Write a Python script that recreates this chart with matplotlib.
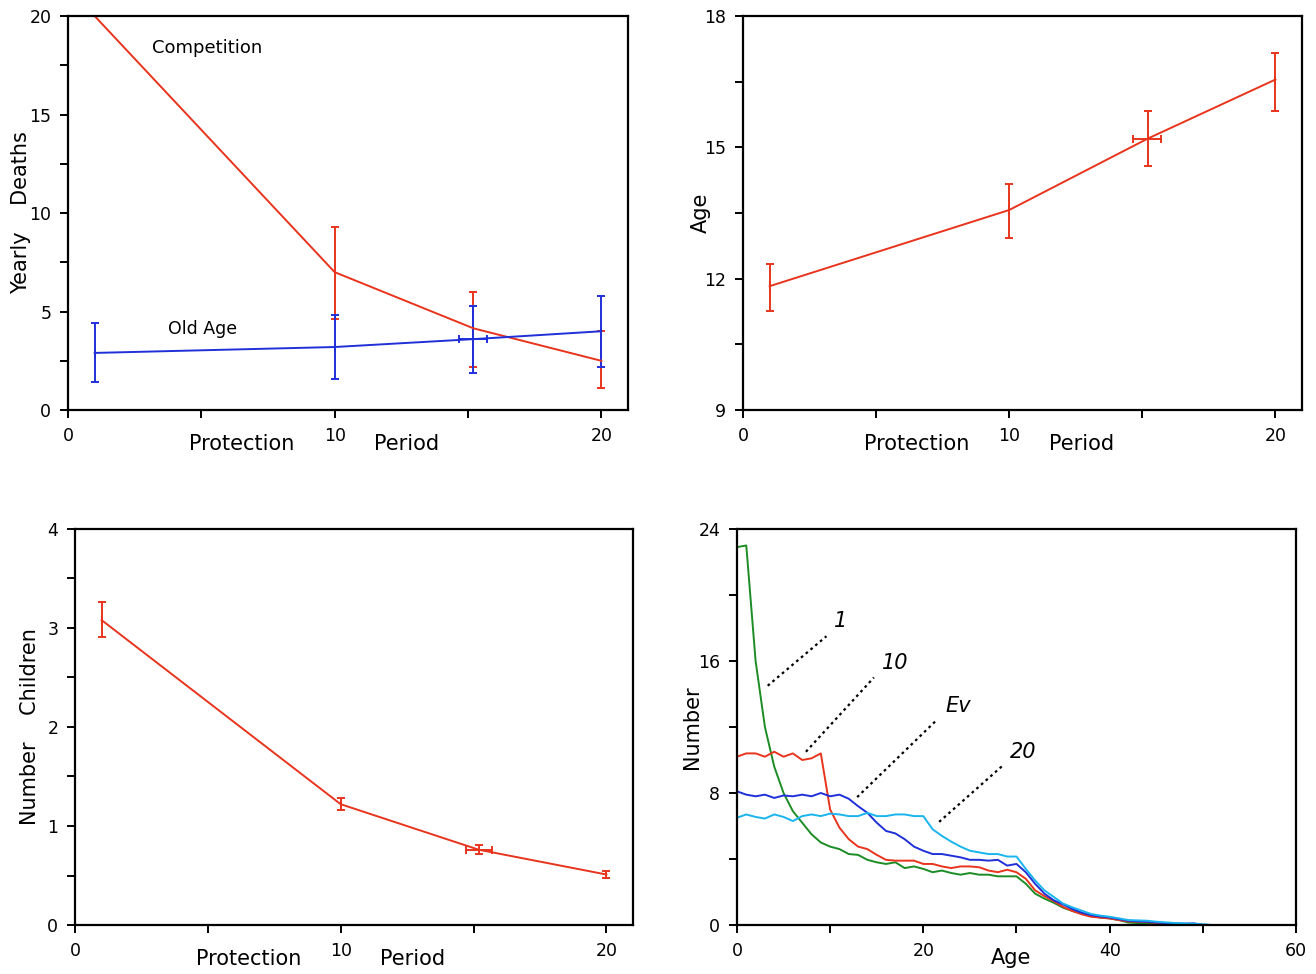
import matplotlib
matplotlib.use("Agg")
import matplotlib.pyplot as plt
from matplotlib.ticker import MultipleLocator, NullFormatter

# ── Colours ──
RED = "#e8341c"
BLUE = "#1f30d8"
GREEN = "#1c8c24"
CYAN = "#1ab4ee"

# ── Top left: yearly deaths vs protection period ──
comp_x = [1, 10, 15.2, 20]
comp_y = [20.0, 7.0, 4.15, 2.5]
comp_lo = [20.0, 4.6, 2.2, 1.1]
comp_hi = [20.0, 9.3, 6.0, 4.0]

old_x = [1, 10, 15.2, 20]
old_y = [2.9, 3.2, 3.6, 4.0]
old_lo = [1.4, 1.6, 1.9, 2.2]
old_hi = [4.4, 4.8, 5.3, 5.8]
old_xlo = [1, 10, 14.65, 20]
old_xhi = [1, 10, 15.7, 20]

# ── Top right: age vs protection period ──
age_x = [1, 10, 15.2, 20]
age_y = [11.83, 13.57, 15.2, 16.55]
age_lo = [11.26, 12.93, 14.57, 15.83]
age_hi = [12.33, 14.16, 15.83, 17.15]
age_xlo = [1, 10, 14.66, 20]
age_xhi = [1, 10, 15.71, 20]

# ── Bottom left: number of children vs protection period ──
kids_x = [1, 10, 15.2, 20]
kids_y = [3.08, 1.22, 0.76, 0.51]
kids_lo = [2.91, 1.16, 0.72, 0.47]
kids_hi = [3.26, 1.28, 0.81, 0.55]
kids_xlo = [1, 10, 14.7, 20]
kids_xhi = [1, 10, 15.68, 20]

# ── Bottom right: age distributions ──
ages = list(range(61))
pop_1 = [22.9, 23.0, 16.0, 12.0, 9.6, 8.0, 6.9, 6.2, 5.5, 5.0,
         4.75, 4.6, 4.3, 4.25, 3.95, 3.8, 3.7, 3.8, 3.45, 3.55,
         3.4, 3.2, 3.3, 3.15, 3.05, 3.15, 3.05, 3.05, 2.95, 2.95,
         2.95, 2.5, 1.9, 1.6, 1.35, 1.05, 0.85, 0.7, 0.55, 0.45,
         0.4, 0.3, 0.15, 0.12, 0.1, 0.08, 0.05, 0.04, 0.02, 0.0,
         0.0, 0.0, 0.0, 0.0, 0.0, 0.0, 0.0, 0.0, 0.0, 0.0, 0.0]
pop_10 = [10.2, 10.4, 10.4, 10.2, 10.5, 10.2, 10.4, 10.0, 10.1, 10.4,
          7.0, 5.9, 5.2, 4.75, 4.6, 4.25, 3.95, 3.9, 3.9, 3.9,
          3.7, 3.7, 3.55, 3.45, 3.55, 3.55, 3.5, 3.3, 3.2, 3.35,
          3.2, 2.8, 2.1, 1.75, 1.45, 1.1, 0.85, 0.65, 0.5, 0.45,
          0.4, 0.3, 0.22, 0.2, 0.18, 0.12, 0.08, 0.05, 0.02, 0.0,
          0.0, 0.0, 0.0, 0.0, 0.0, 0.0, 0.0, 0.0, 0.0, 0.0, 0.0]
pop_ev = [8.1, 7.9, 7.8, 7.9, 7.7, 7.85, 7.8, 7.9, 7.8, 8.0,
          7.8, 7.9, 7.65, 7.2, 6.8, 6.2, 5.7, 5.55, 5.2, 4.75,
          4.5, 4.3, 4.3, 4.2, 4.1, 3.95, 3.95, 3.9, 3.95, 3.6,
          3.7, 3.2, 2.5, 1.9, 1.5, 1.25, 0.97, 0.75, 0.6, 0.52,
          0.46, 0.36, 0.26, 0.22, 0.2, 0.15, 0.12, 0.1, 0.08, 0.1,
          0.02, 0.0, 0.0, 0.0, 0.0, 0.0, 0.0, 0.0, 0.0, 0.0, 0.0]
pop_20 = [6.5, 6.7, 6.55, 6.45, 6.7, 6.55, 6.3, 6.6, 6.7, 6.6,
          6.75, 6.7, 6.6, 6.6, 6.8, 6.6, 6.6, 6.7, 6.7, 6.6,
          6.6, 5.8, 5.4, 5.05, 4.75, 4.5, 4.4, 4.3, 4.3, 4.15,
          4.15, 3.4, 2.7, 2.1, 1.7, 1.3, 1.07, 0.87, 0.67, 0.57,
          0.5, 0.4, 0.3, 0.28, 0.26, 0.2, 0.16, 0.12, 0.1, 0.08,
          0.04, 0.0, 0.0, 0.0, 0.0, 0.0, 0.0, 0.0, 0.0, 0.0, 0.0]

curve_labels = ["1", "10", "Ev", "20"]
label_pos = [(11.1, 18.4), (17.0, 15.9), (23.8, 13.3), (30.7, 10.5)]
leader_start = [(3.3, 14.5), (7.4, 10.5), (12.9, 7.75), (21.7, 6.25)]
leader_end = [(9.6, 17.5), (14.7, 15.0), (21.4, 12.4), (28.6, 9.7)]

plt.rcParams["font.family"] = "DejaVu Sans"
TICK_FS = 12.5
LABEL_FS = 15


def yerr(y, lo, hi):
    return [[v - l for v, l in zip(y, lo)], [h - v for v, h in zip(y, hi)]]


def style(ax, xmaj, xmin, ymaj, ymin):
    for s in ax.spines.values():
        s.set_linewidth(1.6)
    ax.xaxis.set_major_locator(MultipleLocator(xmaj))
    ax.xaxis.set_minor_locator(MultipleLocator(xmin))
    ax.yaxis.set_major_locator(MultipleLocator(ymaj))
    ax.yaxis.set_minor_locator(MultipleLocator(ymin))
    ax.xaxis.set_minor_formatter(NullFormatter())
    ax.yaxis.set_minor_formatter(NullFormatter())
    ax.tick_params(which="both", direction="out", width=1.4, length=6,
                   labelsize=TICK_FS, pad=6, top=False, right=False)


def split_xlabel(ax):
    ax.text(0.311, -0.085, "Protection", transform=ax.transAxes,
            ha="center", va="center", fontsize=LABEL_FS)
    ax.text(0.605, -0.085, "Period", transform=ax.transAxes,
            ha="center", va="center", fontsize=LABEL_FS)


fig = plt.figure(figsize=(13.16, 9.74), dpi=100)
ax1 = fig.add_axes([0.0517, 0.579, 0.4255, 0.4045])
ax2 = fig.add_axes([0.5646, 0.579, 0.4248, 0.4045])
ax3 = fig.add_axes([0.0570, 0.0503, 0.4240, 0.4066])
ax4 = fig.add_axes([0.5600, 0.0503, 0.4248, 0.4066])

eb = dict(capsize=3, elinewidth=1.4, capthick=1.4, lw=1.4)

# top left
ax1.errorbar(comp_x, comp_y, yerr=yerr(comp_y, comp_lo, comp_hi), color=RED, **eb)
ax1.errorbar(old_x, old_y, yerr=yerr(old_y, old_lo, old_hi),
             xerr=yerr(old_x, old_xlo, old_xhi), color=BLUE, **eb)
ax1.set_xlim(0, 21)
ax1.set_ylim(0, 20)
style(ax1, 10, 5, 5, 2.5)
ax1.text(3.15, 18.4, "Competition", fontsize=13, ha="left", va="center")
ax1.text(3.75, 4.1, "Old Age", fontsize=12.5, ha="left", va="center")
ax1.set_ylabel("Yearly    Deaths", fontsize=LABEL_FS)
ax1.yaxis.set_label_coords(-0.066, 0.5)
split_xlabel(ax1)

# top right
ax2.errorbar(age_x, age_y, yerr=yerr(age_y, age_lo, age_hi),
             xerr=yerr(age_x, age_xlo, age_xhi), color=RED, **eb)
ax2.set_xlim(0, 21)
ax2.set_ylim(9, 18)
style(ax2, 10, 5, 3, 1.5)
ax2.set_ylabel("Age", fontsize=LABEL_FS)
ax2.yaxis.set_label_coords(-0.057, 0.5)
split_xlabel(ax2)

# bottom left
ax3.errorbar(kids_x, kids_y, yerr=yerr(kids_y, kids_lo, kids_hi),
             xerr=yerr(kids_x, kids_xlo, kids_xhi), color=RED, **eb)
ax3.set_xlim(0, 21)
ax3.set_ylim(0, 4)
style(ax3, 10, 5, 1, 0.5)
ax3.set_ylabel("Number    Children", fontsize=LABEL_FS)
ax3.yaxis.set_label_coords(-0.063, 0.5)
split_xlabel(ax3)

# bottom right
for vals, col in zip([pop_1, pop_10, pop_ev, pop_20], [GREEN, RED, BLUE, CYAN]):
    ax4.plot(ages, vals, color=col, lw=1.4)
for lab, pos, p0, p1 in zip(curve_labels, label_pos, leader_start, leader_end):
    ax4.plot([p0[0], p1[0]], [p0[1], p1[1]], color="black", lw=1.6,
             linestyle=(0, (1.2, 1.6)))
    ax4.text(pos[0], pos[1], lab, fontsize=15, style="italic",
             ha="center", va="center")
ax4.set_xlim(0, 60)
ax4.set_ylim(0, 24)
style(ax4, 20, 10, 8, 4)
ax4.set_ylabel("Number", fontsize=LABEL_FS)
ax4.yaxis.set_label_coords(-0.063, 0.5)
ax4.text(0.49, -0.083, "Age", transform=ax4.transAxes,
         ha="center", va="center", fontsize=LABEL_FS)

fig.savefig("out.png", dpi=100)
